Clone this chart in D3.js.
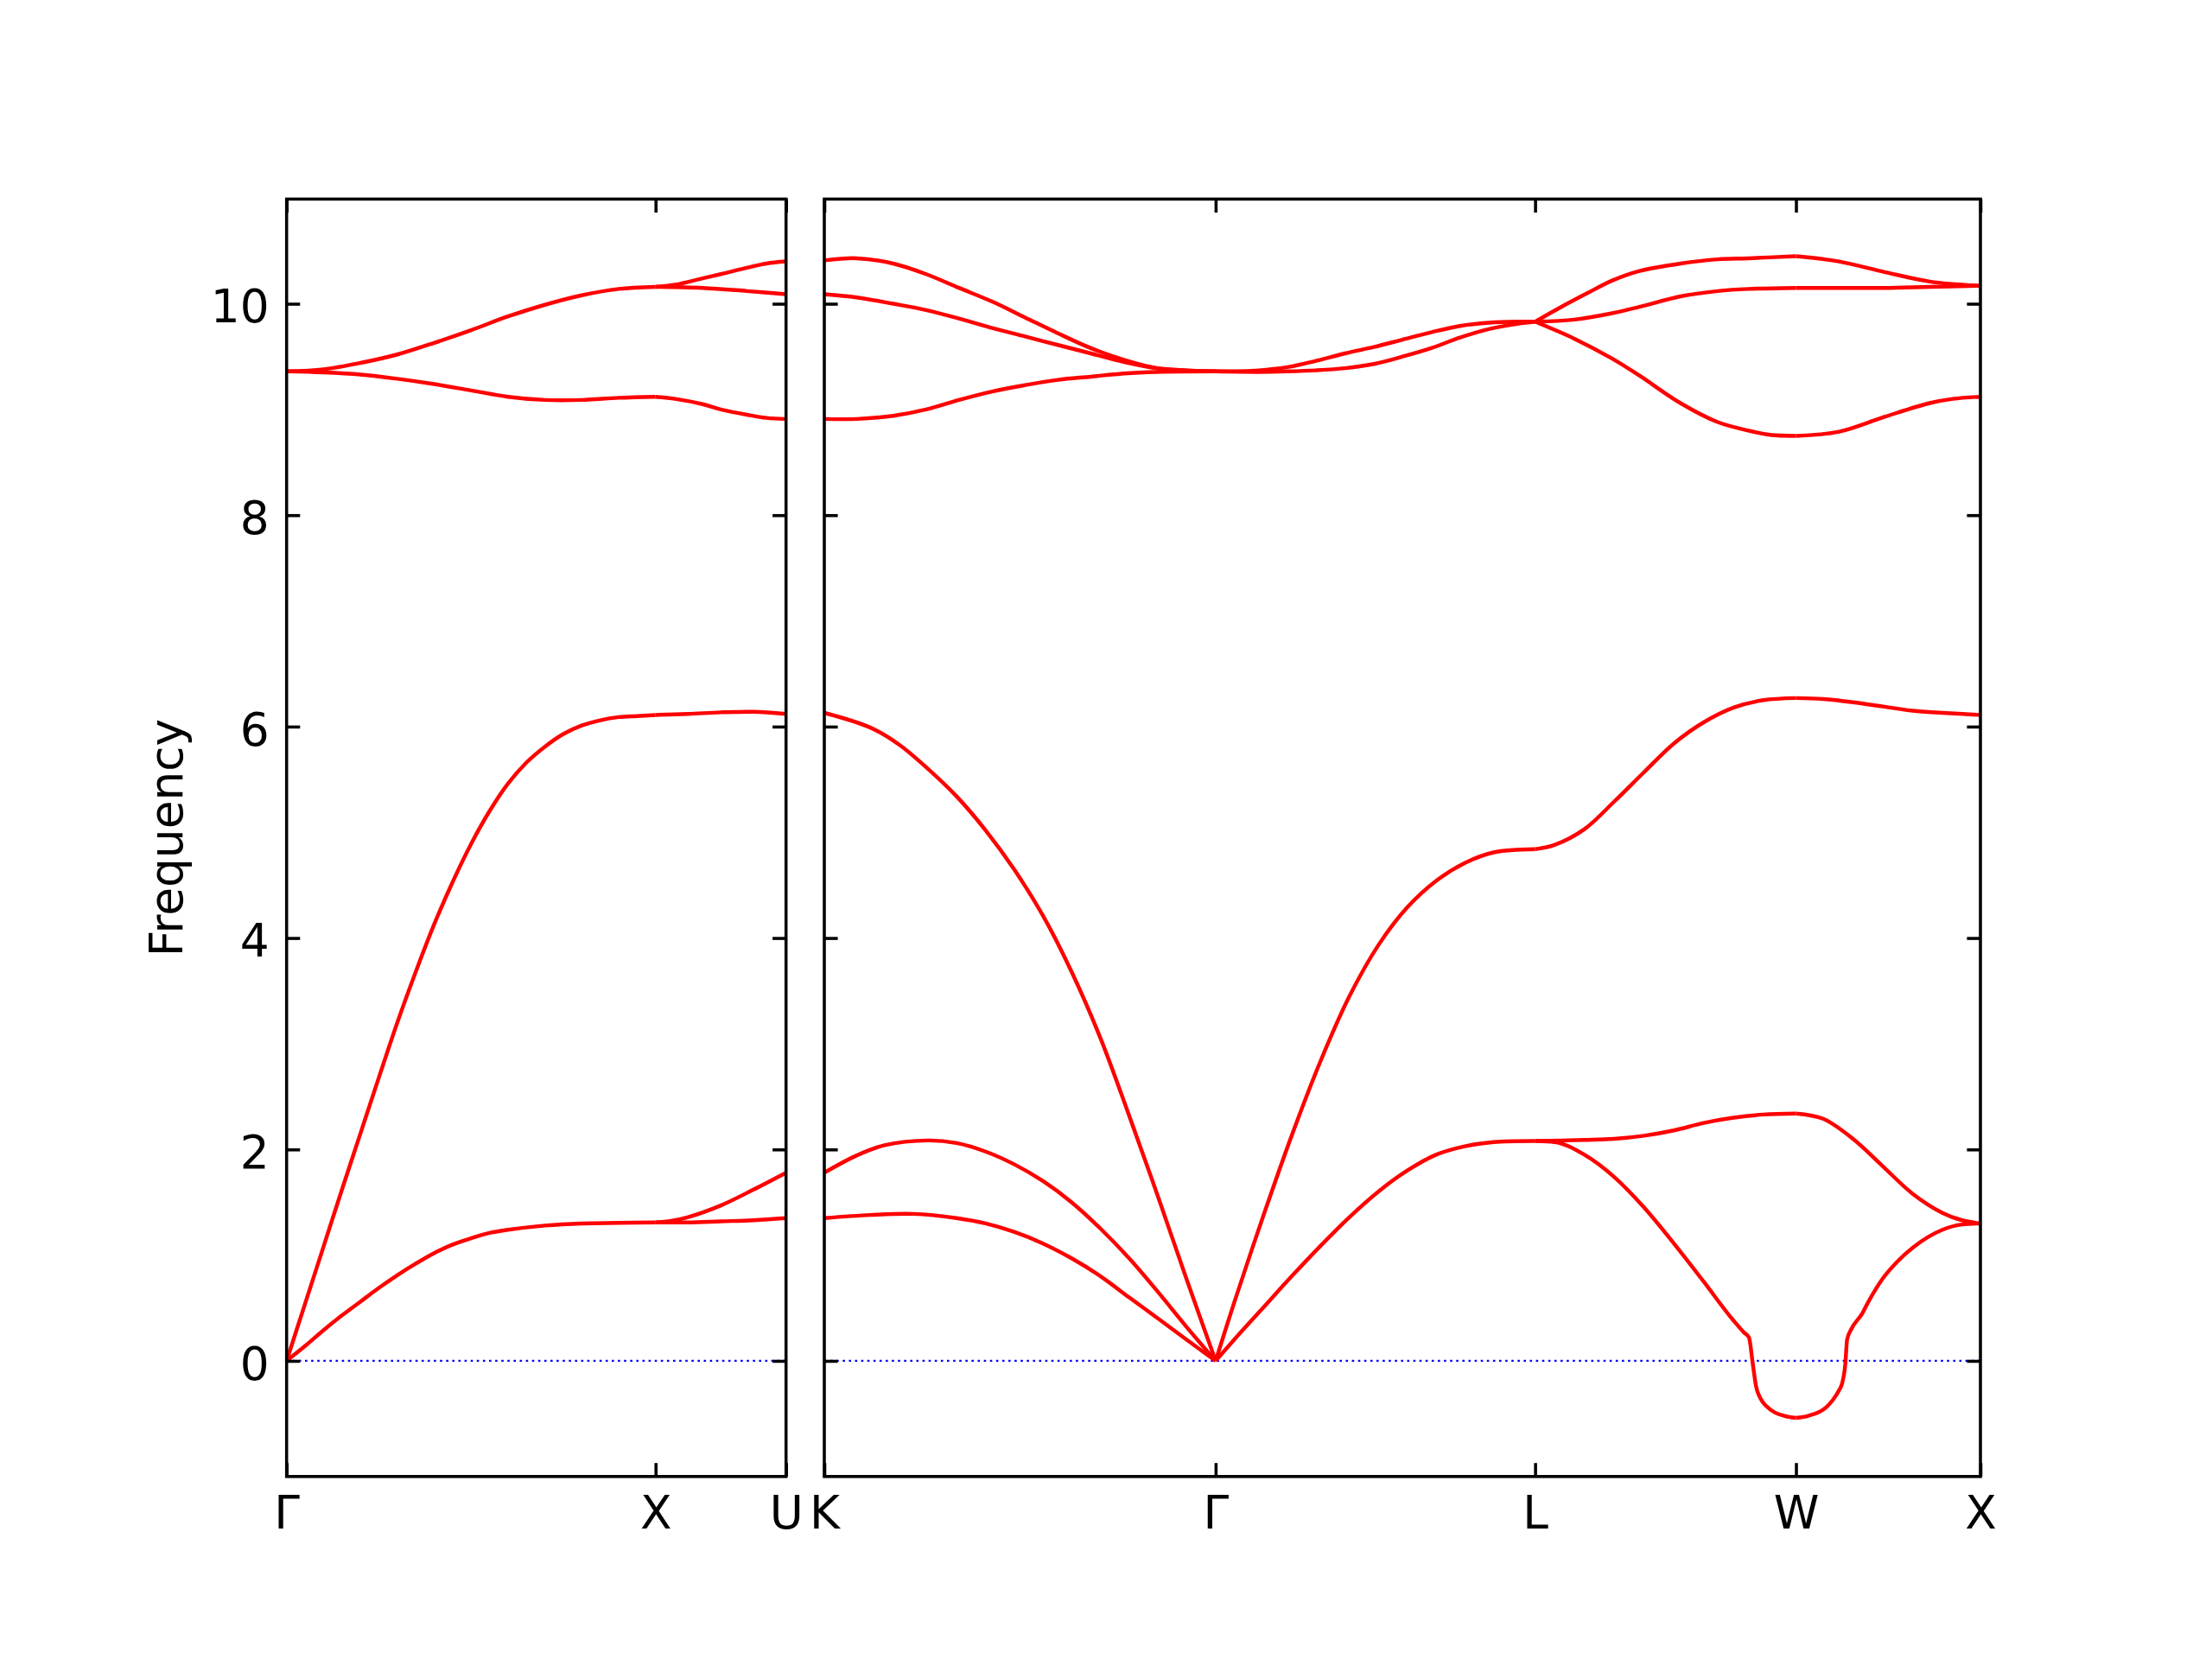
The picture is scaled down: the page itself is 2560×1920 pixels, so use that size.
<!DOCTYPE html>
<html>
<head>
<meta charset="utf-8">
<script src="https://cdn.jsdelivr.net/npm/d3@7"></script>
<style>
  body { margin: 0; background: #fff; }
  svg { display: block; }
</style>
</head>
<body>
<div id="chart"></div>
<script>
// Band path (FCC): Γ-X-U | K-Γ-L-W-X
var leftLabels = ["Γ", "X", "U"];
var rightLabels = ["K", "Γ", "L", "W", "X"];
var segLengths = [1.0, 0.3536, 1.0607, 0.8660, 0.7071, 0.5];
var yTicks = [0, 2, 4, 6, 8, 10];
var yLabel = "Frequency";

// each band = list of [fraction along segment, frequency]
var bandsGX = [
  [[0,0],[0.05,0.14],[0.1,0.29],[0.15,0.43],[0.2,0.56],[0.25,0.69],[0.3,0.81],[0.35,0.92],[0.4,1.02],[0.45,1.1],[0.5,1.16],[0.55,1.21],[0.6,1.24],[0.7,1.28],[0.8,1.3],[0.9,1.305],[1,1.31]],
  [[0,0],[0.05,0.54],[0.1,1.08],[0.15,1.62],[0.2,2.15],[0.25,2.68],[0.3,3.2],[0.35,3.68],[0.4,4.13],[0.45,4.53],[0.5,4.89],[0.55,5.2],[0.6,5.46],[0.65,5.66],[0.7,5.81],[0.75,5.93],[0.8,6.01],[0.85,6.06],[0.9,6.09],[0.95,6.1],[1,6.11]],
  [[0,9.36],[0.1,9.35],[0.2,9.33],[0.3,9.29],[0.4,9.24],[0.5,9.18],[0.6,9.12],[0.7,9.09],[0.8,9.09],[0.9,9.11],[1,9.12]],
  [[0,9.36],[0.1,9.38],[0.2,9.44],[0.3,9.52],[0.4,9.63],[0.5,9.75],[0.6,9.88],[0.7,9.99],[0.8,10.08],[0.9,10.14],[1,10.16]]
];
var bandsXU = [
  [[0,1.31],[0.25,1.31],[0.5,1.32],[0.75,1.33],[1,1.35]],
  [[0,1.31],[0.1,1.32],[0.25,1.36],[0.5,1.47],[0.75,1.62],[1,1.78]],
  [[0,6.11],[0.25,6.12],[0.5,6.135],[0.75,6.14],[1,6.12]],
  [[0,9.12],[0.15,9.1],[0.36,9.05],[0.5,9.0],[0.7,8.95],[0.85,8.92],[1,8.91]],
  [[0,10.16],[0.36,10.15],[0.7,10.12],[1,10.09]],
  [[0,10.16],[0.15,10.18],[0.36,10.24],[0.5,10.28],[0.7,10.34],[0.85,10.38],[1,10.4]]
];
var bandsKG = [
  [[0,1.35],[0.118,1.38],[0.228,1.39],[0.338,1.35],[0.412,1.3],[0.485,1.22],[0.559,1.11],[0.632,0.97],[0.706,0.8],[0.779,0.6],[0.853,0.4],[0.926,0.2],[1,0]],
  [[0,1.78],[0.081,1.94],[0.154,2.04],[0.265,2.085],[0.338,2.06],[0.412,1.98],[0.485,1.86],[0.559,1.7],[0.632,1.5],[0.706,1.25],[0.779,0.97],[0.853,0.65],[0.926,0.32],[1,0]],
  [[0,6.13],[0.118,5.99],[0.191,5.83],[0.265,5.6],[0.338,5.34],[0.412,5.02],[0.485,4.65],[0.559,4.21],[0.632,3.68],[0.706,3.05],[0.779,2.32],[0.853,1.55],[0.926,0.77],[1,0]],
  [[0,8.91],[0.083,8.91],[0.176,8.94],[0.26,9.0],[0.344,9.09],[0.429,9.17],[0.513,9.23],[0.597,9.28],[0.681,9.31],[0.765,9.34],[0.85,9.355],[1,9.36]],
  [[0,10.09],[0.083,10.06],[0.176,10],[0.26,9.94],[0.344,9.86],[0.429,9.77],[0.513,9.69],[0.597,9.61],[0.681,9.53],[0.765,9.45],[0.85,9.39],[1,9.36]],
  [[0,10.41],[0.083,10.43],[0.176,10.38],[0.26,10.28],[0.344,10.15],[0.429,10.02],[0.513,9.87],[0.597,9.72],[0.681,9.58],[0.765,9.47],[0.85,9.39],[1,9.36]]
];
var bandsGL = [
  [[0,0],[0.058,0.2],[0.148,0.5],[0.238,0.8],[0.329,1.09],[0.419,1.36],[0.509,1.6],[0.6,1.8],[0.69,1.95],[0.78,2.03],[0.87,2.07],[1,2.08]],
  [[0,0],[0.058,0.55],[0.148,1.36],[0.238,2.13],[0.329,2.84],[0.419,3.45],[0.509,3.93],[0.6,4.29],[0.69,4.54],[0.78,4.71],[0.87,4.81],[1,4.84]],
  [[0,9.36],[0.134,9.355],[0.224,9.36],[0.314,9.37],[0.405,9.39],[0.495,9.43],[0.585,9.5],[0.675,9.58],[0.765,9.68],[0.855,9.76],[0.945,9.81],[1,9.83]],
  [[0,9.36],[0.134,9.37],[0.224,9.4],[0.314,9.46],[0.405,9.53],[0.495,9.59],[0.585,9.66],[0.675,9.73],[0.765,9.79],[0.855,9.82],[0.945,9.83],[1,9.83]]
];
var bandsLW = [
  [[0,2.08],[0.074,2.07],[0.189,1.95],[0.303,1.74],[0.418,1.45],[0.532,1.11],[0.646,0.75],[0.761,0.38],[0.8,0.27],[0.82,0.22],[0.834,-0.02],[0.847,-0.24],[0.865,-0.36],[0.887,-0.43],[0.92,-0.49],[0.955,-0.52],[1,-0.54]],
  [[0,2.08],[0.189,2.09],[0.303,2.1],[0.418,2.13],[0.532,2.18],[0.646,2.25],[0.761,2.3],[0.875,2.33],[1,2.34]],
  [[0,4.84],[0.074,4.88],[0.189,5.03],[0.303,5.29],[0.418,5.57],[0.532,5.84],[0.646,6.04],[0.761,6.18],[0.875,6.25],[1,6.27]],
  [[0,9.83],[0.15,9.67],[0.296,9.48],[0.4,9.32],[0.557,9.06],[0.7,8.88],[0.818,8.8],[0.9,8.76],[1,8.75]],
  [[0,9.83],[0.15,9.85],[0.296,9.91],[0.4,9.97],[0.557,10.07],[0.7,10.12],[0.818,10.14],[1,10.15]],
  [[0,9.83],[0.1,9.97],[0.2,10.1],[0.296,10.22],[0.4,10.31],[0.557,10.38],[0.7,10.42],[0.818,10.43],[1,10.45]]
];
var bandsWX = [
  [[0,-0.54],[0.066,-0.52],[0.163,-0.44],[0.2,-0.37],[0.236,-0.27],[0.249,-0.22],[0.268,-0.02],[0.277,0.2],[0.3,0.3],[0.36,0.45],[0.39,0.55],[0.471,0.78],[0.55,0.94],[0.633,1.07],[0.794,1.24],[0.9,1.29],[1,1.3]],
  [[0,2.34],[0.147,2.29],[0.309,2.1],[0.471,1.84],[0.633,1.58],[0.794,1.4],[0.9,1.33],[1,1.3]],
  [[0,6.27],[0.147,6.26],[0.309,6.23],[0.471,6.19],[0.633,6.15],[0.794,6.13],[1,6.11]],
  [[0,8.75],[0.233,8.79],[0.48,8.93],[0.725,9.06],[0.85,9.1],[1,9.12]],
  [[0,10.15],[0.233,10.15],[0.48,10.15],[0.725,10.16],[1,10.17]],
  [[0,10.45],[0.233,10.4],[0.48,10.3],[0.725,10.21],[1,10.17]]
];
var segments = [bandsGX, bandsXU, bandsKG, bandsGL, bandsLW, bandsWX];

var width = 2560, height = 1920;
var plotTop = 230.4, plotBottom = 1708.8;
var fontSize = 53.3;
var tickLen = 15.6;
var font = '"DejaVu Sans", sans-serif';

// cumulative distance at the start of each segment
var segStart = [0];
segLengths.forEach(function(l, i) { segStart.push(segStart[i] + l); });

var panels = [
  { x0: 331.7, x1: 909.7, segs: [0, 1], labels: leftLabels },
  { x0: 954, x1: 2292, segs: [2, 3, 4, 5], labels: rightLabels }
];

var y = d3.scaleLinear().domain([-1.094, 10.99]).range([plotBottom, plotTop]);

var svg = d3.select('#chart')
  .append('svg')
  .attr('width', width)
  .attr('height', height)
  .style('background', '#fff');

panels.forEach(function(p, pi) {
  var first = p.segs[0], last = p.segs[p.segs.length - 1];
  var x = d3.scaleLinear()
    .domain([segStart[first], segStart[last + 1]])
    .range([p.x0, p.x1]);
  var ticks = p.segs.map(function(s) { return segStart[s]; }).concat([segStart[last + 1]]);
  var g = svg.append('g');

  // zero line
  g.append('line')
    .attr('x1', p.x0).attr('x2', p.x1)
    .attr('y1', y(0)).attr('y2', y(0))
    .attr('stroke', '#0000ff')
    .attr('stroke-width', 2.2)
    .attr('stroke-dasharray', '2.6,4.5');

  // bands: smooth spline, monotone where the band has the sharp dip
  p.segs.forEach(function(s) {
    var smooth = d3.line()
      .x(function(d) { return x(segStart[s] + d[0] * segLengths[s]); })
      .y(function(d) { return y(d[1]); })
      .curve(d3.curveCatmullRom.alpha(0.5));
    var mono = d3.line()
      .x(function(d) { return x(segStart[s] + d[0] * segLengths[s]); })
      .y(function(d) { return y(d[1]); })
      .curve(d3.curveMonotoneX);
    g.selectAll(null)
      .data(segments[s])
      .enter()
      .append('path')
      .attr('d', function(d) { return d3.min(d, function(v) { return v[1]; }) < 0 ? mono(d) : smooth(d); })
      .attr('fill', 'none')
      .attr('stroke', '#ff0000')
      .attr('stroke-width', 4.44)
      .attr('stroke-linejoin', 'round');
  });

  // axes, ticks pointing inward
  var left = d3.axisLeft(y).tickValues(yTicks).tickSizeInner(-tickLen).tickSizeOuter(0).tickPadding(20)
    .tickFormat(pi === 0 ? d3.format('d') : function() { return ''; });
  var right = d3.axisRight(y).tickValues(yTicks).tickSizeInner(-tickLen).tickSizeOuter(0)
    .tickFormat(function() { return ''; });
  var bottom = d3.axisBottom(x).tickValues(ticks).tickSizeInner(-tickLen).tickSizeOuter(0).tickPadding(22.7)
    .tickFormat(function(d, i) { return p.labels[i]; });
  var topAx = d3.axisTop(x).tickValues(ticks).tickSizeInner(-tickLen).tickSizeOuter(0)
    .tickFormat(function() { return ''; });

  var axes = [
    g.append('g').attr('transform', 'translate(' + p.x0 + ',0)').call(left),
    g.append('g').attr('transform', 'translate(' + p.x1 + ',0)').call(right),
    g.append('g').attr('transform', 'translate(0,' + plotBottom + ')').call(bottom),
    g.append('g').attr('transform', 'translate(0,' + plotTop + ')').call(topAx)
  ];
  axes.forEach(function(a) {
    a.attr('font-size', fontSize).attr('font-family', font);
    a.select('.domain').remove();
    a.selectAll('.tick line').attr('stroke', '#000').attr('stroke-width', 3.56);
    a.selectAll('.tick text').attr('fill', '#000');
  });
  axes[0].selectAll('.tick text').attr('dy', '0.4em');

  // frame
  g.append('rect')
    .attr('x', p.x0).attr('y', plotTop)
    .attr('width', p.x1 - p.x0).attr('height', plotBottom - plotTop)
    .attr('fill', 'none')
    .attr('stroke', '#000')
    .attr('stroke-width', 3.56);
});

svg.append('text')
  .attr('transform', 'translate(211,' + ((plotTop + plotBottom) / 2) + ') rotate(-90)')
  .attr('text-anchor', 'middle')
  .attr('font-family', font)
  .attr('font-size', fontSize)
  .text(yLabel);
</script>
</body>
</html>
